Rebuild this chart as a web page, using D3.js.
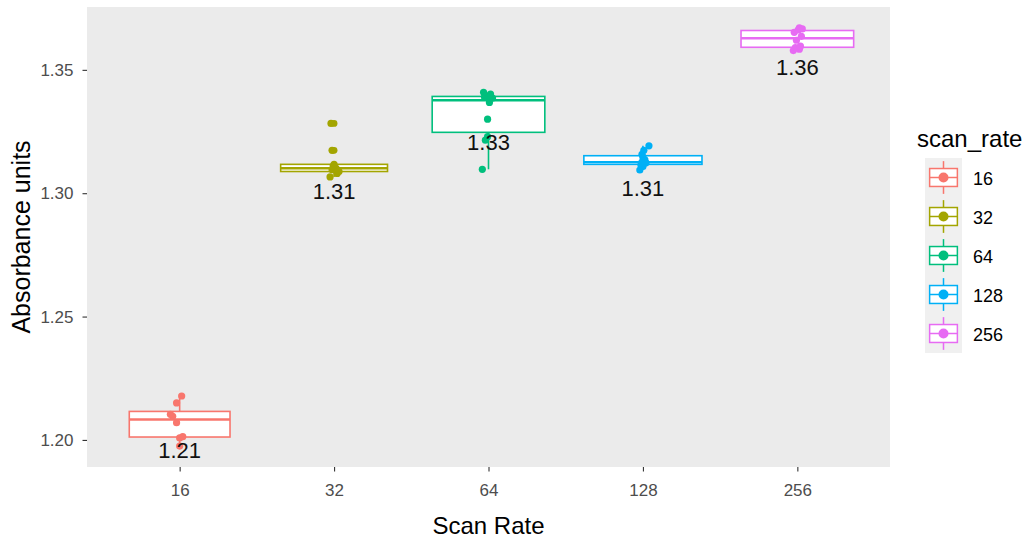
<!DOCTYPE html>
<html>
<head>
<meta charset="utf-8">
<script src="https://cdn.jsdelivr.net/npm/d3@7"></script>
<style>
  html, body { margin: 0; padding: 0; background: #ffffff; }
  svg { display: block; font-family: "Liberation Sans", Arial, sans-serif; }
</style>
</head>
<body>
<svg id="chart" width="1030" height="541"></svg>
<script>
// Scan rates (groups) and absorbance readings for each one
const categories = ["16", "32", "64", "128", "256"];
const rate16  = [1.1975, 1.2008, 1.2013, 1.2070, 1.2096, 1.2104, 1.2150, 1.2178];
const rate32  = [1.3066, 1.3080, 1.3088, 1.3095, 1.3101, 1.3110, 1.3117, 1.3174, 1.3283];
const rate64  = [1.3097, 1.3215, 1.3229, 1.3300, 1.3368, 1.3386, 1.3390, 1.3393, 1.3402, 1.3409];
const rate128 = [1.3094, 1.3108, 1.3114, 1.3120, 1.3123, 1.3126, 1.3135, 1.3146, 1.3158, 1.3174, 1.3192];
const rate256 = [1.3578, 1.3584, 1.3590, 1.3596, 1.3620, 1.3636, 1.3652, 1.3662, 1.3666, 1.3670];
const yTicks = [1.20, 1.25, 1.30, 1.35];
const colors = ["#F8766D", "#A3A500", "#00BF7D", "#00B0F6", "#E76BF3"];

// horizontal jitter of each reading, as a fraction of the category step
const jitter = [
  [0.000, 0.000, 0.020, -0.020, -0.045, -0.060, -0.020, 0.013],
  [-0.026, 0.020, 0.032, -0.013, 0.013, -0.006, 0.000, -0.013, -0.020],
  [-0.040, -0.020, -0.006, -0.006, 0.006, 0.026, -0.026, 0.000, 0.013, -0.032],
  [-0.020, 0.000, -0.013, 0.006, 0.020, -0.006, 0.013, 0.000, -0.006, 0.006, 0.039],
  [-0.026, 0.013, -0.013, 0.020, -0.006, 0.026, -0.020, 0.006, 0.032, 0.013]
];

const groups = [rate16, rate32, rate64, rate128, rate256].map((vals, i) => {
  const s = vals.slice().sort(d3.ascending);
  const q1 = d3.quantile(s, 0.25), med = d3.quantile(s, 0.5), q3 = d3.quantile(s, 0.75);
  const iqr = q3 - q1;
  const lo = d3.min(s.filter(v => v >= q1 - 1.5 * iqr));
  const hi = d3.max(s.filter(v => v <= q3 + 1.5 * iqr));
  return {
    key: categories[i], color: colors[i], values: vals, n: vals.length,
    q1, med, q3, lo, hi, mean: d3.mean(vals),
    outliers: vals.filter(v => v < lo || v > hi)
  };
});

const svg = d3.select("#chart");
const panel = { left: 87, right: 890, top: 7, bottom: 467 };

const x = d3.scalePoint().domain(categories).range([panel.left, panel.right]).padding(0.6);
const allVals = groups.flatMap(g => g.values);
const [vmin, vmax] = d3.extent(allVals);
const pad = (vmax - vmin) * 0.05;
const y = d3.scaleLinear().domain([vmin - pad, vmax + pad]).range([panel.bottom, panel.top]);

// panel background
svg.append("rect")
  .attr("x", panel.left).attr("y", panel.top)
  .attr("width", panel.right - panel.left).attr("height", panel.bottom - panel.top)
  .attr("fill", "#EBEBEB");

// axes
const yAxis = svg.append("g")
  .attr("transform", `translate(${panel.left},0)`)
  .call(d3.axisLeft(y).tickValues(yTicks).tickFormat(d3.format(".2f")).tickSize(4.5).tickPadding(9));
const xAxis = svg.append("g")
  .attr("transform", `translate(0,${panel.bottom})`)
  .call(d3.axisBottom(x).tickSize(4.5).tickPadding(12));
[yAxis, xAxis].forEach(a => {
  a.select(".domain").remove();
  a.selectAll(".tick line").attr("stroke", "#333333").attr("stroke-width", 1.1);
  a.selectAll(".tick text").attr("fill", "#4D4D4D").style("font-size", "17px")
    .style("font-family", "'Liberation Sans', Arial, sans-serif");
});

// axis titles
svg.append("text")
  .attr("x", (panel.left + panel.right) / 2).attr("y", 534)
  .attr("text-anchor", "middle").attr("fill", "#000")
  .style("font-size", "24px").text("Scan Rate");
svg.append("text")
  .attr("transform", `translate(30,${(panel.top + panel.bottom) / 2}) rotate(-90)`)
  .attr("text-anchor", "middle").attr("fill", "#000")
  .style("font-size", "25px").text("Absorbance units");

// box plots (width scaled with sqrt of group size)
const maxN = d3.max(groups, g => g.n);
const fullWidth = x.step() * 0.765;
const boxes = svg.append("g");
groups.forEach(g => {
  const cx = x(g.key);
  const w = fullWidth * Math.sqrt(g.n / maxN);
  const gb = boxes.append("g").attr("stroke", g.color).attr("fill", "none");
  gb.append("line").attr("x1", cx).attr("x2", cx).attr("y1", y(g.q3)).attr("y2", y(g.hi)).attr("stroke-width", 1.6);
  gb.append("line").attr("x1", cx).attr("x2", cx).attr("y1", y(g.q1)).attr("y2", y(g.lo)).attr("stroke-width", 1.6);
  gb.append("rect")
    .attr("x", cx - w / 2).attr("width", w)
    .attr("y", y(g.q3)).attr("height", y(g.q1) - y(g.q3))
    .attr("fill", "#ffffff").attr("stroke-width", 1.6);
  gb.append("line").attr("x1", cx - w / 2).attr("x2", cx + w / 2)
    .attr("y1", y(g.med)).attr("y2", y(g.med)).attr("stroke-width", 2.4);
  gb.selectAll("circle.out").data(g.outliers).join("circle")
    .attr("class", "out").attr("cx", cx).attr("cy", d => y(d)).attr("r", 3.4)
    .attr("fill", g.color).attr("stroke", "none");
});

// jittered readings
const pts = svg.append("g");
groups.forEach((g, i) => {
  pts.selectAll(null).data(g.values).join("circle")
    .attr("cx", (d, j) => x(g.key) + jitter[i][j] * x.step())
    .attr("cy", d => y(d))
    .attr("r", 3.6)
    .attr("fill", g.color);
});

// mean labels below each box
svg.append("g").selectAll("text").data(groups).join("text")
  .attr("x", g => x(g.key))
  .attr("y", g => y(g.mean) + 28)
  .attr("dy", "0.36em")
  .attr("text-anchor", "middle")
  .attr("fill", "#111111")
  .style("font-size", "22px")
  .text(g => d3.format(".2f")(g.mean));

// legend
const lg = svg.append("g");
lg.append("text").attr("x", 917).attr("y", 147).attr("fill", "#000")
  .style("font-size", "24px").text("scan_rate");
const keyX = 925, keyY = 158, keyW = 37, keyH = 39;
lg.append("rect").attr("x", keyX).attr("y", keyY)
  .attr("width", keyW).attr("height", keyH * groups.length).attr("fill", "#F0F0F0");
groups.forEach((g, i) => {
  const top = keyY + i * keyH;
  const cx = keyX + keyW / 2;
  const k = lg.append("g").attr("stroke", g.color).attr("stroke-width", 1.5).attr("fill", "none");
  k.append("line").attr("x1", cx).attr("x2", cx).attr("y1", top + keyH * 0.08).attr("y2", top + keyH * 0.92);
  k.append("rect").attr("x", keyX + keyW * 0.125).attr("width", keyW * 0.75)
    .attr("y", top + keyH * 0.27).attr("height", keyH * 0.46).attr("fill", "#ffffff");
  k.append("line").attr("x1", keyX + keyW * 0.125).attr("x2", keyX + keyW * 0.875)
    .attr("y1", top + keyH / 2).attr("y2", top + keyH / 2);
  lg.append("circle").attr("cx", cx).attr("cy", top + keyH / 2).attr("r", 5).attr("fill", g.color);
  lg.append("text").attr("x", 973).attr("y", top + keyH / 2 + 1).attr("dy", "0.36em")
    .attr("fill", "#000").style("font-size", "18px").text(g.key);
});
</script>
</body>
</html>
